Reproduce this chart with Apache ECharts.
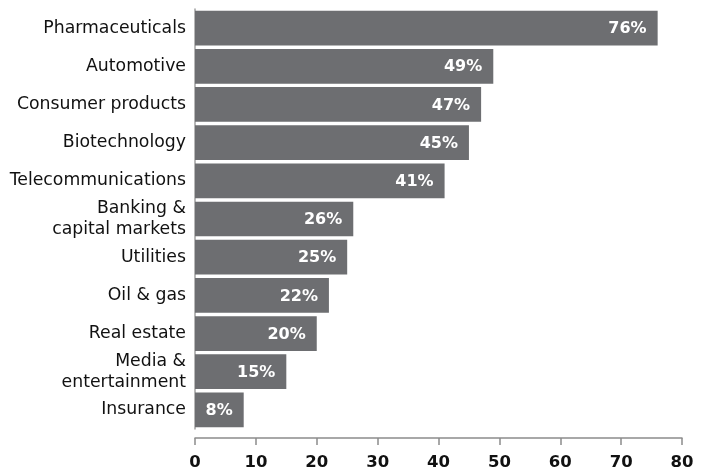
<!DOCTYPE html>
<html><head><meta charset="utf-8">
<script src="https://cdn.jsdelivr.net/npm/echarts@6/dist/echarts.min.js"></script>
<style>html,body{margin:0;padding:0;background:#fff}#c{width:708px;height:471px}</style>
</head><body><div id="c"></div>
<script>
const categories = ["Pharmaceuticals","Automotive","Consumer products","Biotechnology","Telecommunications","Banking &\ncapital markets","Utilities","Oil & gas","Real estate","Media &\nentertainment","Insurance"];
const values = [76,49,47,45,41,26,25,22,20,15,8];
const xTicks = [0,10,20,30,40,50,60,70,80];

const chart = echarts.init(document.getElementById('c'), null, {renderer:'canvas'});
chart.setOption({
  animation:false,
  grid:{left:195, right:26, top:9, bottom:42, containLabel:false},
  xAxis:{type:'value', min:xTicks[0], max:xTicks[xTicks.length-1], interval:10, offset:9,
    axisLine:{show:true, lineStyle:{color:'#8c8c8c', width:1.5}},
    axisTick:{show:true, length:7, lineStyle:{color:'#8c8c8c', width:1.5}},
    splitLine:{show:false},
    axisLabel:{color:'#111', fontSize:16.5, fontWeight:'bold', fontFamily:'DejaVu Sans', margin:16}
  },
  yAxis:{type:'category', data:categories, inverse:true,
    axisLine:{show:true, lineStyle:{color:'#a0a0a0', width:1.5}},
    axisTick:{show:false},
    axisLabel:{color:'#111', fontSize:17.3, fontFamily:'DejaVu Sans', margin:9, lineHeight:21, align:'right'}
  },
  series:[{type:'bar', data:values, barCategoryGap:'9%',
    itemStyle:{color:'#6d6e71'},
    label:{show:true, position:'insideRight', offset:[-6,1], formatter:'{c}%', color:'#fff', fontSize:16, fontWeight:'bold', fontFamily:'DejaVu Sans'}
  }]
});
</script></body></html>
